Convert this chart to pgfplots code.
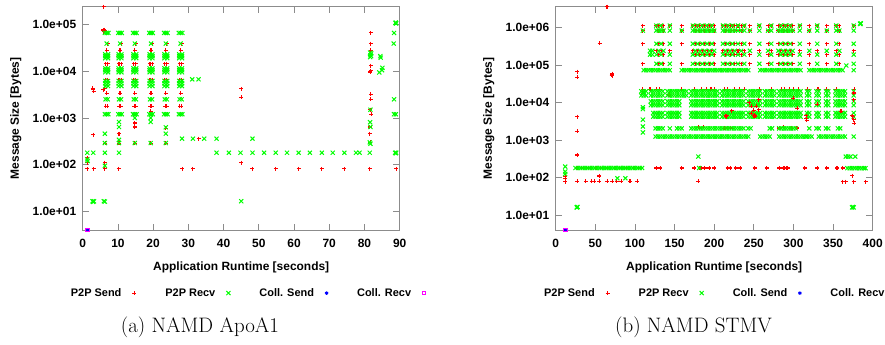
\documentclass[border=0pt]{standalone}
\usepackage{fontspec}
\usepackage{pgfplots}
\usepackage{pgfplotstable}
\pgfplotsset{compat=1.18}
\newfontfamily\gpfont{Liberation Sans}
\definecolor{gpred}{rgb}{1,0,0}
\definecolor{gpgreen}{rgb}{0,1,0}
\definecolor{gpblue}{rgb}{0,0,1}
\definecolor{gpmag}{rgb}{1,0,1}
\definecolor{gpframe}{gray}{0.55}

\pgfplotsset{
 psend/.style={only marks, mark=+, color=gpred, mark size=2pt, line width=1.1pt, mark options={draw=gpred}},
 precv/.style={only marks, mark=x, color=gpgreen, mark size=2.9pt, line width=1.0pt, mark options={draw=gpgreen}},
 csend/.style={only marks, mark=asterisk, color=gpblue, mark size=1.8pt, line width=0.9pt, mark options={draw=gpblue}},
 crecv/.style={only marks, mark=square, color=gpmag, mark size=1.8pt, line width=0.9pt, mark options={draw=gpmag}},
}

% ---------- STMV tables ----------
\pgfplotstableread{
x A B C D E F
110 1.13e6 8.3e5 3.7e5 nan nan 1.08e5
127 1.13e6 nan nan 2.4e5 nan nan
130 1.13e6 8.3e5 3.7e5 nan 1.9e5 1.08e5
133 1.13e6 nan nan 2.4e5 nan nan
136 1.13e6 8.3e5 3.7e5 nan 1.9e5 1.08e5
144 1.13e6 nan nan 2.4e5 nan nan
159 1.13e6 8.3e5 3.7e5 nan nan 1.08e5
173 1.13e6 nan nan 2.4e5 nan nan
176 1.13e6 8.3e5 3.7e5 nan 1.9e5 1.08e5
179 1.13e6 nan nan 2.4e5 nan nan
182 1.13e6 8.3e5 3.7e5 nan 1.9e5 1.08e5
185 1.13e6 nan nan 2.4e5 nan nan
188 1.13e6 8.3e5 3.7e5 nan 1.9e5 1.08e5
191 1.13e6 nan nan 2.4e5 nan nan
194 1.13e6 8.3e5 3.7e5 nan 1.9e5 1.08e5
197 1.13e6 nan nan 2.4e5 nan nan
200 1.13e6 8.3e5 3.7e5 nan 1.9e5 1.08e5
211 1.13e6 nan nan 2.4e5 nan nan
214 1.13e6 8.3e5 3.7e5 nan 1.9e5 1.08e5
217 1.13e6 nan nan 2.4e5 nan nan
220 1.13e6 8.3e5 3.7e5 nan 1.9e5 1.08e5
223 1.13e6 nan nan 2.4e5 nan nan
226 1.13e6 8.3e5 3.7e5 nan 1.9e5 1.08e5
230 1.13e6 nan nan 2.4e5 nan nan
234 1.13e6 8.3e5 3.7e5 nan 1.9e5 1.08e5
238 1.13e6 nan nan 2.4e5 nan nan
245 1.13e6 8.3e5 3.7e5 nan 1.9e5 1.08e5
257 1.13e6 nan nan 2.4e5 nan nan
268 1.13e6 8.3e5 3.7e5 nan 1.9e5 1.08e5
272 1.13e6 nan nan 2.4e5 nan nan
281 1.13e6 8.3e5 3.7e5 nan 1.9e5 1.08e5
284 1.13e6 nan nan 2.4e5 nan nan
287 1.13e6 8.3e5 3.7e5 nan 1.9e5 1.08e5
290 1.13e6 nan nan 2.4e5 nan nan
293 1.13e6 8.3e5 3.7e5 nan 1.9e5 1.08e5
296 1.13e6 nan nan 2.4e5 nan nan
299 1.13e6 8.3e5 3.7e5 nan 1.9e5 1.08e5
308 1.13e6 nan nan 2.4e5 nan nan
320 1.13e6 8.3e5 3.7e5 nan 1.9e5 1.08e5
330 1.13e6 nan nan 2.4e5 nan nan
342 1.13e6 8.3e5 3.7e5 nan 1.9e5 1.08e5
354 1.13e6 nan nan 2.4e5 nan nan
358 1.13e6 8.3e5 3.7e5 nan 1.9e5 1.08e5
376 1.13e6 nan nan 2.4e5 nan nan
}\stmvredup

\pgfplotstableread{
x A B C D E F
110 nan 8.3e5 nan nan nan nan
127 1.13e6 8.3e5 3.7e5 nan 1.9e5 1.08e5
130 nan 8.3e5 nan 2.4e5 nan nan
133 1.13e6 8.3e5 3.7e5 nan 1.9e5 1.08e5
136 nan 8.3e5 nan 2.4e5 nan nan
144 1.13e6 8.3e5 3.7e5 nan 1.9e5 1.08e5
159 nan 8.3e5 nan nan nan nan
173 1.13e6 8.3e5 3.7e5 nan 1.9e5 1.08e5
176 nan 8.3e5 nan 2.4e5 nan nan
179 1.13e6 8.3e5 3.7e5 nan 1.9e5 1.08e5
182 nan 8.3e5 nan 2.4e5 nan nan
185 1.13e6 8.3e5 3.7e5 nan 1.9e5 1.08e5
188 nan 8.3e5 nan 2.4e5 nan nan
191 1.13e6 8.3e5 3.7e5 nan 1.9e5 1.08e5
194 nan 8.3e5 nan 2.4e5 nan nan
197 1.13e6 8.3e5 3.7e5 nan 1.9e5 1.08e5
200 nan 8.3e5 nan 2.4e5 nan nan
211 1.13e6 8.3e5 3.7e5 nan 1.9e5 1.08e5
214 nan 8.3e5 nan 2.4e5 nan nan
217 1.13e6 8.3e5 3.7e5 nan 1.9e5 1.08e5
220 nan 8.3e5 nan 2.4e5 nan nan
223 1.13e6 8.3e5 3.7e5 nan 1.9e5 1.08e5
226 nan 8.3e5 nan 2.4e5 nan nan
230 1.13e6 8.3e5 3.7e5 nan 1.9e5 1.08e5
234 nan 8.3e5 nan 2.4e5 nan nan
238 1.13e6 8.3e5 3.7e5 nan 1.9e5 1.08e5
245 nan 8.3e5 nan 2.4e5 nan nan
257 1.13e6 8.3e5 3.7e5 nan 1.9e5 1.08e5
268 nan 8.3e5 nan 2.4e5 nan nan
272 1.13e6 8.3e5 3.7e5 nan 1.9e5 1.08e5
281 nan 8.3e5 nan 2.4e5 nan nan
284 1.13e6 8.3e5 3.7e5 nan 1.9e5 1.08e5
287 nan 8.3e5 nan 2.4e5 nan nan
290 1.13e6 8.3e5 3.7e5 nan 1.9e5 1.08e5
293 nan 8.3e5 nan 2.4e5 nan nan
296 1.13e6 8.3e5 3.7e5 nan 1.9e5 1.08e5
299 nan 8.3e5 nan 2.4e5 nan nan
308 1.13e6 8.3e5 3.7e5 nan 1.9e5 1.08e5
320 nan 8.3e5 nan 2.4e5 nan nan
330 1.13e6 8.3e5 3.7e5 nan 1.9e5 1.08e5
342 nan 8.3e5 nan 2.4e5 nan nan
354 1.13e6 8.3e5 3.7e5 nan 1.9e5 1.08e5
358 nan 8.3e5 nan 2.4e5 nan nan
376 1.13e6 8.3e5 3.7e5 nan 1.9e5 1.08e5
}\stmvgreenup

\pgfplotstableread{
x G H1 H2 I1 I2 J1 J2 K L
108 nan 2.0e4 1.55e4 nan nan nan nan nan nan
111 7.3e4 2.0e4 1.55e4 nan nan nan nan nan nan
114 7.3e4 2.0e4 1.55e4 nan nan nan nan nan nan
117 7.3e4 nan nan nan nan nan nan nan nan
120 7.3e4 2.0e4 1.55e4 1.08e4 8.5e3 nan nan nan nan
123 7.3e4 2.0e4 1.55e4 1.08e4 8.5e3 5.3e3 4.2e3 nan nan
126 7.3e4 2.0e4 1.55e4 1.08e4 8.5e3 5.3e3 4.2e3 2.05e3 1.24e3
129 7.3e4 2.0e4 1.55e4 1.08e4 8.5e3 5.3e3 4.2e3 2.05e3 1.24e3
132 7.3e4 2.0e4 1.55e4 1.08e4 8.5e3 5.3e3 4.2e3 2.05e3 1.24e3
135 7.3e4 2.0e4 1.55e4 1.08e4 8.5e3 5.3e3 4.2e3 2.05e3 1.24e3
138 7.3e4 nan nan nan nan nan nan nan 1.24e3
141 7.3e4 2.0e4 1.55e4 1.08e4 8.5e3 5.3e3 4.2e3 nan 1.24e3
144 7.3e4 2.0e4 1.55e4 1.08e4 8.5e3 5.3e3 4.2e3 2.05e3 1.24e3
147 nan 2.0e4 1.55e4 1.08e4 8.5e3 5.3e3 4.2e3 nan 1.24e3
150 nan 2.0e4 1.55e4 1.08e4 8.5e3 5.3e3 4.2e3 nan 1.24e3
153 nan 2.0e4 1.55e4 1.08e4 8.5e3 5.3e3 4.2e3 2.05e3 1.24e3
156 nan 2.0e4 1.55e4 1.08e4 8.5e3 5.3e3 4.2e3 2.05e3 1.24e3
159 7.3e4 2.0e4 1.55e4 nan nan nan nan 2.05e3 1.24e3
162 7.3e4 2.0e4 1.55e4 nan nan nan nan nan 1.24e3
165 7.3e4 2.0e4 1.55e4 nan nan nan nan nan 1.24e3
168 7.3e4 nan nan nan nan nan nan nan 1.24e3
171 7.3e4 2.0e4 1.55e4 1.08e4 8.5e3 5.3e3 4.2e3 2.05e3 1.24e3
174 7.3e4 2.0e4 1.55e4 1.08e4 8.5e3 5.3e3 4.2e3 2.05e3 1.24e3
177 7.3e4 2.0e4 1.55e4 1.08e4 8.5e3 5.3e3 4.2e3 2.05e3 1.24e3
180 7.3e4 2.0e4 1.55e4 1.08e4 8.5e3 5.3e3 4.2e3 2.05e3 1.24e3
183 7.3e4 2.0e4 1.55e4 1.08e4 8.5e3 5.3e3 4.2e3 2.05e3 1.24e3
186 7.3e4 2.0e4 1.55e4 1.08e4 8.5e3 5.3e3 4.2e3 2.05e3 1.24e3
189 7.3e4 2.0e4 1.55e4 1.08e4 8.5e3 5.3e3 4.2e3 2.05e3 1.24e3
192 7.3e4 2.0e4 1.55e4 1.08e4 8.5e3 5.3e3 4.2e3 2.05e3 1.24e3
195 7.3e4 2.0e4 1.55e4 1.08e4 8.5e3 5.3e3 4.2e3 2.05e3 1.24e3
198 7.3e4 2.0e4 1.55e4 1.08e4 8.5e3 5.3e3 4.2e3 2.05e3 1.24e3
201 7.3e4 2.0e4 1.55e4 1.08e4 8.5e3 5.3e3 4.2e3 2.05e3 1.24e3
204 7.3e4 2.0e4 1.55e4 1.08e4 8.5e3 5.3e3 4.2e3 2.05e3 1.24e3
207 7.3e4 nan nan nan nan nan nan 2.05e3 1.24e3
210 7.3e4 2.0e4 1.55e4 1.08e4 8.5e3 5.3e3 4.2e3 2.05e3 1.24e3
213 7.3e4 2.0e4 1.55e4 1.08e4 8.5e3 5.3e3 4.2e3 2.05e3 1.24e3
216 7.3e4 2.0e4 1.55e4 1.08e4 8.5e3 5.3e3 4.2e3 2.05e3 1.24e3
219 7.3e4 2.0e4 1.55e4 1.08e4 8.5e3 5.3e3 4.2e3 2.05e3 1.24e3
222 7.3e4 2.0e4 1.55e4 1.08e4 8.5e3 5.3e3 4.2e3 2.05e3 1.24e3
225 7.3e4 2.0e4 1.55e4 1.08e4 8.5e3 5.3e3 4.2e3 2.05e3 1.24e3
228 7.3e4 2.0e4 1.55e4 1.08e4 8.5e3 5.3e3 4.2e3 2.05e3 1.24e3
231 7.3e4 2.0e4 1.55e4 1.08e4 8.5e3 5.3e3 4.2e3 2.05e3 1.24e3
234 7.3e4 2.0e4 1.55e4 1.08e4 8.5e3 5.3e3 4.2e3 2.05e3 1.24e3
237 7.3e4 2.0e4 1.55e4 1.08e4 8.5e3 5.3e3 4.2e3 2.05e3 1.24e3
240 7.3e4 nan nan nan nan nan nan nan 1.24e3
243 7.3e4 2.0e4 1.55e4 1.08e4 8.5e3 5.3e3 4.2e3 2.05e3 1.24e3
246 nan 2.0e4 1.55e4 1.08e4 8.5e3 5.3e3 4.2e3 2.05e3 nan
249 nan 2.0e4 1.55e4 1.08e4 8.5e3 5.3e3 4.2e3 nan nan
252 nan 2.0e4 1.55e4 1.08e4 8.5e3 5.3e3 4.2e3 nan nan
255 nan 2.0e4 1.55e4 1.08e4 8.5e3 5.3e3 4.2e3 nan nan
258 7.3e4 2.0e4 1.55e4 1.08e4 8.5e3 5.3e3 4.2e3 nan 1.24e3
261 7.3e4 nan nan nan nan nan nan nan 1.24e3
264 7.3e4 2.0e4 1.55e4 1.08e4 8.5e3 5.3e3 4.2e3 nan 1.24e3
267 7.3e4 2.0e4 1.55e4 1.08e4 8.5e3 5.3e3 4.2e3 nan 1.24e3
270 7.3e4 2.0e4 1.55e4 1.08e4 8.5e3 5.3e3 4.2e3 2.05e3 1.24e3
273 7.3e4 2.0e4 1.55e4 1.08e4 8.5e3 5.3e3 4.2e3 2.05e3 nan
276 7.3e4 2.0e4 1.55e4 1.08e4 8.5e3 5.3e3 4.2e3 nan nan
279 7.3e4 nan nan nan nan nan nan nan nan
282 7.3e4 2.0e4 1.55e4 1.08e4 8.5e3 5.3e3 4.2e3 2.05e3 1.24e3
285 7.3e4 2.0e4 1.55e4 1.08e4 8.5e3 5.3e3 4.2e3 2.05e3 1.24e3
288 7.3e4 2.0e4 1.55e4 1.08e4 8.5e3 5.3e3 4.2e3 2.05e3 1.24e3
291 7.3e4 2.0e4 1.55e4 1.08e4 8.5e3 5.3e3 4.2e3 2.05e3 1.24e3
294 7.3e4 2.0e4 1.55e4 1.08e4 8.5e3 5.3e3 4.2e3 2.05e3 1.24e3
297 7.3e4 2.0e4 1.55e4 1.08e4 8.5e3 5.3e3 4.2e3 2.05e3 1.24e3
300 7.3e4 2.0e4 1.55e4 1.08e4 8.5e3 5.3e3 4.2e3 2.05e3 1.24e3
303 7.3e4 2.0e4 1.55e4 1.08e4 8.5e3 5.3e3 4.2e3 2.05e3 1.24e3
306 7.3e4 2.0e4 1.55e4 1.08e4 8.5e3 5.3e3 4.2e3 nan 1.24e3
309 7.3e4 2.0e4 1.55e4 1.08e4 8.5e3 5.3e3 4.2e3 nan 1.24e3
312 nan nan nan nan nan nan nan nan 1.24e3
315 nan nan nan nan nan nan nan nan 1.24e3
317 nan 2.0e4 1.55e4 1.08e4 8.5e3 5.3e3 4.2e3 nan 1.24e3
320 7.3e4 2.0e4 1.55e4 1.08e4 8.5e3 5.3e3 4.2e3 2.05e3 1.24e3
323 7.3e4 nan nan nan nan nan nan nan 1.24e3
326 7.3e4 nan nan nan nan nan nan nan nan
329 7.3e4 2.0e4 1.55e4 1.08e4 8.5e3 5.3e3 4.2e3 2.05e3 nan
332 7.3e4 2.0e4 1.55e4 1.08e4 8.5e3 5.3e3 4.2e3 2.05e3 1.24e3
335 7.3e4 nan nan nan nan nan nan nan 1.24e3
338 7.3e4 nan nan nan nan nan nan nan 1.24e3
341 7.3e4 2.0e4 1.55e4 1.08e4 8.5e3 5.3e3 4.2e3 2.05e3 1.24e3
344 7.3e4 2.0e4 1.55e4 1.08e4 8.5e3 5.3e3 4.2e3 2.05e3 1.24e3
347 7.3e4 nan nan nan nan nan nan nan 1.24e3
350 7.3e4 nan nan nan nan nan nan nan 1.24e3
353 7.3e4 2.0e4 1.55e4 1.08e4 8.5e3 5.3e3 4.2e3 nan 1.24e3
356 7.3e4 2.0e4 1.55e4 1.08e4 8.5e3 5.3e3 4.2e3 2.05e3 1.24e3
359 7.3e4 2.0e4 1.55e4 1.08e4 8.5e3 5.3e3 4.2e3 2.05e3 1.24e3
362 7.3e4 2.0e4 1.55e4 1.08e4 8.5e3 5.3e3 4.2e3 nan 1.24e3
365 nan 2.0e4 1.55e4 1.08e4 8.5e3 5.3e3 4.2e3 nan 1.24e3
376 7.3e4 2.0e4 1.55e4 1.08e4 8.5e3 5.3e3 4.2e3 nan 1.24e3
}\stmvdense

\begin{document}
\begin{tikzpicture}
\useasboundingbox (0,0) rectangle (885bp,345bp);

% ================= (a) NAMD ApoA1 =================
\begin{axis}[
  scale only axis, width=317bp, height=223.3bp,
  at={(82.7bp,115bp)}, anchor=south west,
  ymode=log, clip=false,
  xmin=0, xmax=90, ymin=4, ymax=2.4e5,
  xtick={0,10,...,90},
  ytick={10,100,1000,10000,100000},
  yticklabels={1.0e+01,1.0e+02,1.0e+03,1.0e+04,1.0e+05},
  axis line style={gpframe, line width=0.8pt},
  tick style={gpframe, line width=0.8pt},
  tick align=inside, major tick length=6.5bp,
  yminorticks=false, xminorticks=false,
  tick label style={font=\gpfont\bfseries\fontsize{12}{14}\selectfont, black},
  /pgf/number format/assume math mode=true,
  xticklabel style={yshift=-6bp},
  yticklabel style={xshift=-3bp},
  xlabel={Application Runtime [seconds]},
  ylabel={Message Size [Bytes]},
  xlabel style={font=\gpfont\bfseries\fontsize{12}{14}\selectfont, at={(axis description cs:0.5,-0.166)}, anchor=center},
  ylabel style={font=\gpfont\bfseries\fontsize{12}{14}\selectfont, at={(axis description cs:-0.211,0.5)}, anchor=center},
  legend columns=4,
  legend plot pos=right,
  legend style={draw=none, fill=none, inner sep=0pt, anchor=west,
    at={(axis description cs:-0.038,-0.2825)},
    font=\gpfont\bfseries\fontsize{11}{13}\selectfont,
    nodes={inner sep=0pt},
    /tikz/every odd column/.append style={column sep=11bp},
    /tikz/every even column/.append style={column sep=29bp}},
]
\addplot[psend] coordinates {
(6.8,28000)(6.5,14300)(7.1,14300)(6.5,6500)(7.1,6500)(6.8,3400)(6.6,1770)(7.0,1770)(7.1,39000)
(10.6,28000)(10.3,14300)(10.9,14300)(10.3,6500)(10.9,6500)(10.6,3400)(10.4,1770)(10.8,1770)(10.9,39000)
(14.8,28000)(14.5,14300)(15.1,14300)(14.5,6500)(15.1,6500)(14.8,3400)(14.6,1770)(15.0,1770)(15.1,39000)
(19.4,28000)(19.1,14300)(19.7,14300)(19.1,6500)(19.7,6500)(19.4,3400)(19.2,1770)(19.6,1770)(19.7,39000)
(23.6,28000)(23.3,14300)(23.9,14300)(23.3,6500)(23.9,6500)(23.6,3400)(23.4,1770)(23.8,1770)(23.9,39000)
(27.8,28000)(27.5,14300)(28.1,14300)(27.5,6500)(28.1,6500)(27.8,3400)(27.6,1770)(28.0,1770)(28.1,39000)
(6.0,240000)(5.9,76000)(6.2,73000)(6.0,70000)(6.1,78000)(5.8,4000)(6.2,4200)(2.8,4300)(3.1,3700)(3.0,4000)(3.0,440)
(1.3,81)(3.1,81)(6.3,81)(10.2,81)(28.3,81)(31.3,81)(48.2,81)(54.8,81)(61.3,81)(67.9,81)(74.3,81)(81.5,81)(89.0,81)
(1.3,140)(1.3,110)(6.3,110)(6.4,290)(10.3,290)(14.8,290)(19.3,290)(23.6,290)(10.3,460)(14.8,780)(14.8,640)(19.3,1400)(23.6,600)
(32.9,360)(45,4200)(45,2750)(45,110)
(81.8,66000)(81.8,39000)(81.8,28000)(81.8,13200)(81.8,10300)(81.6,9600)(81.8,3200)(81.8,2500)(81.6,1500)(81.9,1200)(81.5,640)(81.5,460)(81.7,300)
};
\addplot[precv] coordinates {
(6.3,66000)(6.8,66000)(7.3,66000)(6.8,39000)(6.4,23000)(7.2,23000)(6.4,21000)(7.2,21000)(6.4,19000)(7.2,19000)(6.4,11500)(7.2,11500)(6.4,10500)(7.2,10500)(6.4,9500)(7.2,9500)(6.4,6200)(7.2,6200)(6.4,5500)(7.2,5500)(6.4,4800)(7.2,4800)(6.5,2500)(7.1,2500)(6.3,1200)(6.8,1200)(7.3,1200)
(10.1,66000)(10.6,66000)(11.1,66000)(10.6,39000)(10.2,23000)(11.0,23000)(10.2,21000)(11.0,21000)(10.2,19000)(11.0,19000)(10.2,11500)(11.0,11500)(10.2,10500)(11.0,10500)(10.2,9500)(11.0,9500)(10.2,6200)(11.0,6200)(10.2,5500)(11.0,5500)(10.2,4800)(11.0,4800)(10.3,2500)(10.9,2500)(10.1,1200)(10.6,1200)(11.1,1200)
(14.3,66000)(14.8,66000)(15.3,66000)(14.8,39000)(14.4,23000)(15.2,23000)(14.4,21000)(15.2,21000)(14.4,19000)(15.2,19000)(14.4,11500)(15.2,11500)(14.4,10500)(15.2,10500)(14.4,9500)(15.2,9500)(14.4,6200)(15.2,6200)(14.4,5500)(15.2,5500)(14.4,4800)(15.2,4800)(14.5,2500)(15.1,2500)(14.3,1200)(14.8,1200)(15.3,1200)
(18.9,66000)(19.4,66000)(19.9,66000)(19.4,39000)(19.0,23000)(19.8,23000)(19.0,21000)(19.8,21000)(19.0,19000)(19.8,19000)(19.0,11500)(19.8,11500)(19.0,10500)(19.8,10500)(19.0,9500)(19.8,9500)(19.0,6200)(19.8,6200)(19.0,5500)(19.8,5500)(19.0,4800)(19.8,4800)(19.1,2500)(19.7,2500)(18.9,1200)(19.4,1200)(19.9,1200)
(23.1,66000)(23.6,66000)(24.1,66000)(23.6,39000)(23.2,23000)(24.0,23000)(23.2,21000)(24.0,21000)(23.2,19000)(24.0,19000)(23.2,11500)(24.0,11500)(23.2,10500)(24.0,10500)(23.2,9500)(24.0,9500)(23.2,6200)(24.0,6200)(23.2,5500)(24.0,5500)(23.2,4800)(24.0,4800)(23.3,2500)(23.9,2500)(23.1,1200)(23.6,1200)(24.1,1200)
(27.3,66000)(27.8,66000)(28.3,66000)(27.8,39000)(27.4,23000)(28.2,23000)(27.4,21000)(28.2,21000)(27.4,19000)(28.2,19000)(27.4,11500)(28.2,11500)(27.4,10500)(28.2,10500)(27.4,9500)(28.2,9500)(27.4,6200)(28.2,6200)(27.4,5500)(28.2,5500)(27.4,4800)(28.2,4800)(27.5,2500)(28.1,2500)(27.3,1200)(27.8,1200)(28.3,1200)
(1.3,180)(1.3,130)(1.4,120)(3.0,180)(2.8,16.5)(3.2,16.5)(3.0,16)(6.0,16.5)(6.3,16.2)(6.3,180)(6.3,290)(6.3,95)(6.3,460)
(10.3,180)(10.3,290)(10.3,820)(10.3,640)(10.3,340)(14.8,290)(14.8,1000)(19.3,290)(19.3,1000)(19.3,820)(23.6,290)(23.6,460)(23.6,630)
(28.2,360)(31.3,360)(34.5,360)(38.0,360)(48.2,360)(31.1,6700)(32.9,6700)
(38.0,180)(41.5,180)(44.8,180)(48.2,180)(51.5,180)(54.8,180)(58.0,180)(61.3,180)(64.5,180)(67.9,180)(71.0,180)(74.3,180)(77.6,180)(78.6,180)(81.5,180)(88.7,180)(89.0,180)(88.9,175)
(45,16.5)
(81.6,25000)(81.9,24000)(81.7,22000)(81.9,21000)(81.6,20000)(81.7,1500)(81.6,810)(81.7,640)(81.5,300)(81.7,280)
(84.5,21000)(84.6,19500)(84.2,9400)(85.1,11800)(85.0,10500)(88.4,66000)(88.3,39000)(88.4,2500)(88.4,1200)(88.9,1200)(88.8,108000)(89.0,105000)(88.9,110000)
};
\addplot[csend] coordinates {(1.4,4)};
\addplot[crecv] coordinates {(1.4,4)};
\legend{P2P Send, P2P Recv, Coll. Send, Coll. Recv}
\end{axis}

% ================= (b) NAMD STMV =================
\begin{axis}[
  scale only axis, width=317bp, height=223.3bp,
  at={(555.7bp,115bp)}, anchor=south west,
  ymode=log, clip=false,
  xmin=0, xmax=400, ymin=4, ymax=3.6e6,
  xtick={0,50,...,400},
  ytick={10,100,1000,10000,100000,1000000},
  yticklabels={1.0e+01,1.0e+02,1.0e+03,1.0e+04,1.0e+05,1.0e+06},
  axis line style={gpframe, line width=0.8pt},
  tick style={gpframe, line width=0.8pt},
  tick align=inside, major tick length=6.5bp,
  yminorticks=false, xminorticks=false,
  tick label style={font=\gpfont\bfseries\fontsize{12}{14}\selectfont, black},
  /pgf/number format/assume math mode=true,
  xticklabel style={yshift=-6bp},
  yticklabel style={xshift=-3bp},
  xlabel={Application Runtime [seconds]},
  ylabel={Message Size [Bytes]},
  xlabel style={font=\gpfont\bfseries\fontsize{12}{14}\selectfont, at={(axis description cs:0.5,-0.166)}, anchor=center},
  ylabel style={font=\gpfont\bfseries\fontsize{12}{14}\selectfont, at={(axis description cs:-0.211,0.5)}, anchor=center},
  legend columns=4,
  legend plot pos=right,
  legend style={draw=none, fill=none, inner sep=0pt, anchor=west,
    at={(axis description cs:-0.037,-0.2825)},
    font=\gpfont\bfseries\fontsize{11}{13}\selectfont,
    nodes={inner sep=0pt},
    /tikz/every odd column/.append style={column sep=11bp},
    /tikz/every even column/.append style={column sep=29bp}},
]
\addplot[psend] coordinates {
(12,78)(12,95)(12,107)(27.3,67000)(27.3,47500)(27.3,4200)(27.3,1700)(27.3,400)(27.3,80)
(55.5,384000)(64.7,3600000)(70.6,53000)(71,56000)(71.3,59000)(70.8,54000)(71.2,52000)(55,110)
(38,80)(45.4,80)(48.4,80)(54.7,80)(65.2,80)(71.5,80)(77,80)(82.5,80)(93.8,80)(103,80)
(27,180)(33,180)(39,180)(45,180)(51,180)(57,180)(63,180)(69,180)(75,180)(81,180)(87,180)(93,180)(99,180)(105,180)
(127,180)(132,180)(159,180)(175,180)(182,180)(184,180)(188,180)(194,180)(200,180)(217,180)(220,180)(227,180)(233,180)(251,180)(266,180)(282,180)(287,180)(289,180)(291,180)(293,180)(314,180)(330,180)(342,180)(355,180)(362,180)
(180,80)(362,78)(366,78)(376,78)(391,78)(374,113)
};
\addplot[psend, forget plot] table[x=x,y=A] {\stmvredup};
\addplot[psend, forget plot] table[x=x,y=B] {\stmvredup};
\addplot[psend, forget plot] table[x=x,y=C] {\stmvredup};
\addplot[psend, forget plot] table[x=x,y=D] {\stmvredup};
\addplot[psend, forget plot] table[x=x,y=E] {\stmvredup};
\addplot[psend, forget plot] table[x=x,y=F] {\stmvredup};
\addplot[psend, forget plot] coordinates {
(110,22500)(119,22500)(127,22500)(131,22500)(159,22500)(175,22500)(184,22500)(190,22500)(196,22500)(200,22500)(213,22500)(217,22500)(226,22500)(232,22500)(238,22500)(257,22500)(272,22500)(285,22500)(289,22500)(295,22500)(300,22500)(306,22500)(318,22500)(331,22500)(342,22500)(354,22500)(377,22500)
(110,17500)(143,16000)(142.5,15500)(143.5,16500)
(182,2100)(186,2200)(213,2100)(217,2100)(221,2100)(282,2100)(287,2200)(297,2100)(304,2100)(180,2200)
};
\addplot[precv] coordinates {
(12,196)(12,145)(12,125)(27,16.2)(26.5,16)(27.5,16.5)(77.8,96)(87.9,96)
(25,180)(28,180)(31,180)(34,180)(37,180)(40,180)(43,180)(46,180)(49,180)(52,180)(55,180)(58,180)(61,180)(64,180)(67,180)(70,180)(73,180)(76,180)(79,180)(82,180)(85,180)(88,180)(91,180)(94,180)(97,180)(100,180)(103,180)(106,180)(109,180)
(110,7500)(110,6700)(110,3500)(110,2300)(110,1600)(110,18000)
(180,363)(181,180)
(119,2.4e5)(122,1.9e5)(119,1.9e5)(122,2.4e5)(366.7,9.7e4)(384,1.27e6)(385,1.3e6)(384.5,1.24e6)
(366,363)(369,363)(372,363)(378,363)(368,178)(371,178)(374,178)(377,178)(380,178)(383,178)(386,178)(389,178)(391,178)(374,16)(376,16)(375,16.5)
};
\addplot[precv, forget plot] table[x=x,y=A] {\stmvgreenup};
\addplot[precv, forget plot] table[x=x,y=B] {\stmvgreenup};
\addplot[precv, forget plot] table[x=x,y=C] {\stmvgreenup};
\addplot[precv, forget plot] table[x=x,y=D] {\stmvgreenup};
\addplot[precv, forget plot] table[x=x,y=E] {\stmvgreenup};
\addplot[precv, forget plot] table[x=x,y=F] {\stmvgreenup};
\addplot[precv, forget plot] table[x=x,y=G] {\stmvdense};
\addplot[precv, forget plot] table[x=x,y=H1] {\stmvdense};
\addplot[precv, forget plot] table[x=x,y=H2] {\stmvdense};
\addplot[precv, forget plot] table[x=x,y=I1] {\stmvdense};
\addplot[precv, forget plot] table[x=x,y=I2] {\stmvdense};
\addplot[precv, forget plot] table[x=x,y=J1] {\stmvdense};
\addplot[precv, forget plot] table[x=x,y=J2] {\stmvdense};
\addplot[precv, forget plot] table[x=x,y=K] {\stmvdense};
\addplot[precv, forget plot] table[x=x,y=L] {\stmvdense};
\addplot[psend, forget plot] coordinates {
(215,4300)(214.5,4500)(215.5,4200)(216,4400)(250,4500)(251,4600)(252,4400)(251,4300)
(244,10000)(247,8000)(250,6200)(253,8000)(256,6500)(247,5200)(256,12000)
(316,4500)(316,3800)(317,3400)(222,6000)(305,7000)(360,5800)(330,9000)(300,13000)
(376,18000)(376,12000)(375,4200)(376,3500)(377,2800)(374,4500)
};
\addplot[csend] coordinates {(12,4)};
\addplot[crecv] coordinates {(12,4)};
\legend{P2P Send, P2P Recv, Coll. Send, Coll. Recv}
\end{axis}

\node[font=\fontsize{21}{25}\selectfont] at (200bp,18bp) {(a) NAMD ApoA1};
\node[font=\fontsize{21}{25}\selectfont] at (693.5bp,18bp) {(b) NAMD STMV};
\end{tikzpicture}
\end{document}
